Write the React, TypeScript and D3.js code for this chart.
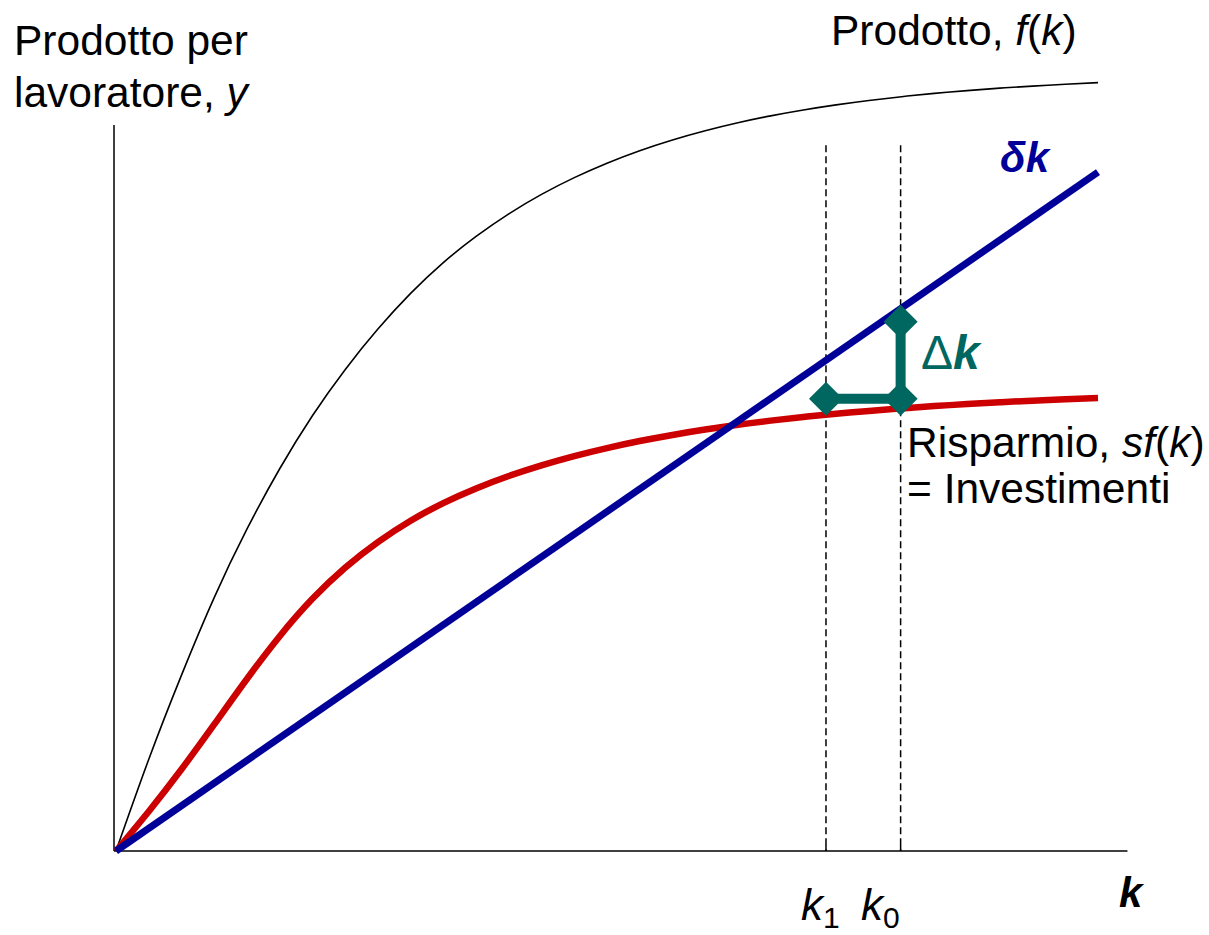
import React from "react";
import * as d3 from "d3";

// Capital per worker, k (sample positions along the horizontal axis)
const kGrid = [0, 3.33, 6.67, 10, 13.33, 16.67, 20, 23.33, 26.67, 30, 33.33, 36.67, 40, 43.33, 46.67, 50, 53.33, 56.67, 60, 63.33, 66.67, 70, 73.33, 76.67, 80, 83.33, 86.67, 90, 93.33, 96.67, 100];

// Production function f(k) (black)
const prodY = [0, 12.61, 24.23, 34.91, 44.32, 52.65, 59.95, 66.3, 71.89, 76.8, 81.05, 84.65, 87.76, 90.44, 92.75, 94.74, 96.46, 97.94, 99.21, 100.31, 101.26, 102.07, 102.77, 103.38, 103.9, 104.36, 104.74, 105.08, 105.36, 105.61, 105.83];

// Savings = investment sf(k) (red)
const saveY = [0, 5.45, 11.26, 17.43, 23.69, 29.59, 34.73, 39.01, 42.54, 45.49, 47.92, 49.94, 51.65, 53.12, 54.4, 55.5, 56.47, 57.31, 58.05, 58.7, 59.28, 59.78, 60.23, 60.62, 60.97, 61.28, 61.56, 61.81, 62.03, 62.23, 62.41];

// Depreciation δk (blue)
const deprK = [0, 100];
const deprY = [0, 93.5];

// Marked capital levels
const k1 = 72.3;
const k0 = 79.9;
const deltaBottom = 62.3;
const deltaTop = 72.9;
const guideTop = 97.2;
const axisMaxX = 103;
const axisMaxY = 100;

const W = 1209;
const H = 935;

export default function App() {
  const x = d3.scaleLinear().domain([0, 100]).range([116, 1098]);
  const y = d3.scaleLinear().domain([0, 100]).range([851, 125]);

  const line = d3
    .line<[number, number]>()
    .x((d) => x(d[0]))
    .y((d) => y(d[1]))
    .curve(d3.curveNatural);
  const straight = d3
    .line<[number, number]>()
    .x((d) => x(d[0]))
    .y((d) => y(d[1]));

  const prodPts = kGrid.map((k, i) => [k, prodY[i]] as [number, number]);
  const savePts = kGrid.map((k, i) => [k, saveY[i]] as [number, number]);
  const deprPts = deprK.map((k, i) => [k, deprY[i]] as [number, number]);

  const green = "#006660";
  const font = "'Liberation Sans', Arial, Helvetica, sans-serif";
  const fs = 42.5;

  const diamond = (cx: number, cy: number, r: number) =>
    `M${cx},${cy - r}L${cx + r},${cy}L${cx},${cy + r}L${cx - r},${cy}Z`;

  return (
    <svg
      width={W}
      height={H}
      style={{ position: "absolute", left: 0, top: 0, background: "#fff" }}
      fontFamily={font}
    >
      {/* axes */}
      <line x1={x(0) - 2} x2={x(0) - 2} y1={y(axisMaxY)} y2={y(0)} stroke="#000" strokeWidth={1.5} />
      <line x1={x(0) - 2} x2={x(axisMaxX)} y1={y(0)} y2={y(0)} stroke="#000" strokeWidth={1.5} />
      {[k1, k0].map((k, i) => (
        <line key={i} x1={x(k)} x2={x(k)} y1={y(0)} y2={y(0) - 6} stroke="#000" strokeWidth={1.5} />
      ))}

      {/* dashed guides */}
      {[k1, k0].map((k, i) => (
        <line
          key={"g" + i}
          x1={x(k)}
          x2={x(k)}
          y1={y(guideTop)}
          y2={y(0)}
          stroke="#000"
          strokeWidth={1.5}
          strokeDasharray="7,4"
        />
      ))}

      {/* curves */}
      <path d={line(prodPts) || ""} fill="none" stroke="#000" strokeWidth={1.6} />
      <path d={line(savePts) || ""} fill="none" stroke="#CC0000" strokeWidth={6.5} />
      <path d={straight(deprPts) || ""} fill="none" stroke="#000099" strokeWidth={7} />

      {/* Δk annotation */}
      <path
        d={`M${x(k1)},${y(deltaBottom)}L${x(k0)},${y(deltaBottom)}L${x(k0)},${y(deltaTop)}`}
        fill="none"
        stroke={green}
        strokeWidth={10}
      />
      <path d={diamond(x(k1), y(deltaBottom), 17)} fill={green} />
      <path d={diamond(x(k0), y(deltaBottom), 17)} fill={green} />
      <path d={diamond(x(k0), y(deltaTop), 17)} fill={green} />

      {/* texts */}
      <text x={14} y={55} fontSize={fs}>Prodotto per</text>
      <text x={14} y={107} fontSize={fs}>
        lavoratore, <tspan fontStyle="italic">y</tspan>
      </text>
      <text x={831} y={45} fontSize={fs}>
        Prodotto, <tspan fontStyle="italic">f</tspan>(<tspan fontStyle="italic">k</tspan>)
      </text>
      <text x={1000} y={172} fontSize={42} fill="#000099" fontWeight="bold" fontStyle="italic">
        δk
      </text>
      <text x={921} y={369} fontSize={48} fill={green} fontWeight="bold">
        <tspan fontWeight="normal">Δ</tspan>
        <tspan fontStyle="italic">k</tspan>
      </text>
      <text x={907} y={457} fontSize={fs}>
        Risparmio, <tspan fontStyle="italic">sf</tspan>(<tspan fontStyle="italic">k</tspan>)
      </text>
      <text x={907} y={503} fontSize={fs}>= Investimenti</text>
      <text x={801} y={920} fontSize={44}>
        <tspan fontStyle="italic">k</tspan>
        <tspan fontSize={30} dy={8}>1</tspan>
      </text>
      <text x={861} y={920} fontSize={44}>
        <tspan fontStyle="italic">k</tspan>
        <tspan fontSize={30} dy={8}>0</tspan>
      </text>
      <text x={1119} y={907} fontSize={42} fontWeight="bold" fontStyle="italic">
        k
      </text>
    </svg>
  );
}
